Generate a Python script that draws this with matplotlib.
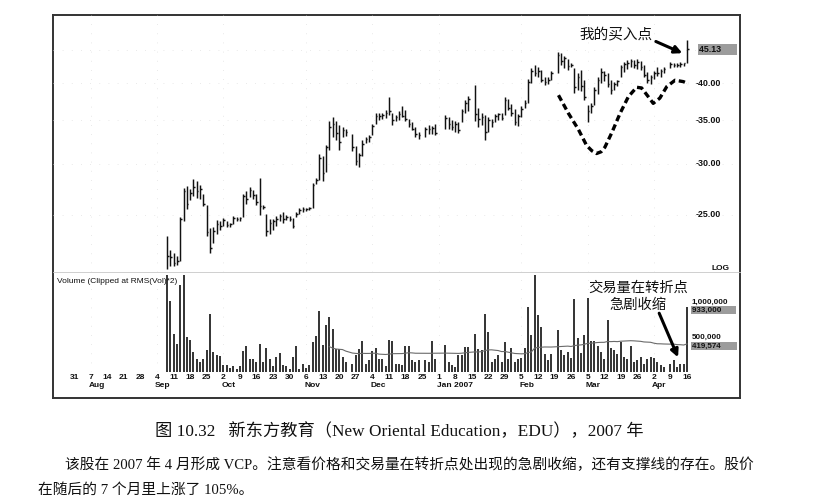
import numpy as np
import pandas as pd
import matplotlib
matplotlib.use('Agg')
import matplotlib.pyplot as plt
from matplotlib.transforms import blended_transform_factory

# trading days Sep 7 2006 - Apr 16 2007, market holidays left out
holidays = ['2006-11-23', '2006-12-25', '2007-01-01', '2007-01-02',
            '2007-01-15', '2007-02-19', '2007-04-06']
days = pd.bdate_range('2006-09-07', '2007-04-16')
days = days[~days.isin(pd.to_datetime(holidays))]

# daily bars, one line per week
highs = [23.2, 22.0,
         21.8, 21.6, 24.8, 27.5, 27.7,
         27.4, 28.4, 28.2, 27.8, 26.9,
         25.9, 23.8, 23.9, 24.5, 24.4,
         24.7, 24.4, 24.3, 24.9, 24.8,
         24.8, 26.9, 27.2, 27.6, 27.3,
         26.9, 28.5, 25.9, 25.1, 24.6,
         24.6, 24.9, 25.1, 25.2, 25.0,
         24.9, 24.7, 25.2, 25.6, 25.7,
         25.6, 25.7, 28.0, 28.5, 31.1,
         30.8, 32.1, 34.9, 35.4, 34.9,
         34.4, 34.2, 34.0, 33.4,
         32.0, 31.2, 32.6, 33.0, 33.2,
         34.5, 35.9, 36.0, 35.9, 36.3,
         38.0, 36.0, 35.7, 36.2, 36.8,
         36.3, 35.2, 34.8, 34.2, 33.6,
         34.2, 34.4, 34.3, 34.5,
         35.7, 35.4, 35.0,
         34.9, 34.8, 36.5, 37.6, 38.2,
         39.7, 36.6, 35.9, 35.7,
         35.4, 35.2, 35.8, 36.0, 35.9,
         38.0, 37.8, 37.1, 36.5, 35.8,
         36.8, 37.6, 40.6, 42.2, 42.7,
         42.3, 41.9, 40.9, 40.8, 41.7,
         44.7, 44.5, 44.0, 43.6,
         43.0, 42.2, 41.4, 41.9, 40.4,
         37.0, 37.2, 39.4, 40.9, 42.2,
         41.8, 41.4, 40.4, 40.2, 40.5,
         42.6, 43.1, 43.4, 43.6, 43.5,
         43.6, 43.3, 42.7, 41.6, 41.2,
         41.8, 42.3, 42.1, 42.4,
         43.1, 43.0, 43.0, 43.1, 43.0,
         46.6]
lows = [20.6, 20.8,
        20.8, 20.9, 21.2, 24.4, 25.5,
        26.3, 26.7, 26.5, 26.4, 25.8,
        23.2, 21.8, 22.6, 23.3, 23.7,
        24.0, 23.9, 23.9, 24.2, 24.4,
        24.4, 24.8, 26.0, 26.6, 26.4,
        25.9, 25.0, 25.5, 23.2, 23.3,
        23.7, 24.0, 24.4, 24.3, 24.5,
        24.4, 23.8, 24.8, 25.1, 25.2,
        25.3, 25.4, 25.6, 27.9, 28.3,
        28.2, 29.1, 31.5, 33.0, 32.6,
        31.5, 33.0, 33.1, 31.4,
        29.8, 29.6, 30.8, 32.3, 32.4,
        33.2, 34.6, 35.0, 35.2, 35.3,
        35.7, 34.4, 34.9, 35.0, 35.4,
        34.9, 34.2, 33.8, 33.0, 32.8,
        33.0, 33.3, 33.4, 33.2,
        33.9, 34.0, 33.8,
        33.6, 33.5, 34.8, 35.9, 36.2,
        34.9, 34.2, 34.4, 32.6,
        33.6, 34.2, 34.8, 35.0, 35.1,
        35.7, 36.3, 35.6, 34.4, 34.3,
        35.4, 36.6, 37.2, 40.0, 41.0,
        40.8, 40.2, 39.7, 39.8, 40.5,
        41.5, 42.6, 42.2, 41.9,
        42.3, 38.6, 39.0, 38.9, 37.6,
        34.8, 36.0, 37.0, 38.4, 40.0,
        40.3, 39.4, 38.4, 39.0, 39.6,
        40.8, 41.6, 42.0, 42.3, 42.2,
        42.1, 41.9, 40.8, 40.0, 39.8,
        40.6, 41.0, 40.9, 41.5,
        42.2, 42.3, 42.4, 42.4, 42.5,
        42.9]
closes = [21.6, 21.5,
          21.0, 21.2, 24.6, 27.2, 26.0,
          27.0, 27.6, 27.2, 27.4, 26.0,
          23.5, 22.2, 23.6, 24.2, 24.0,
          24.5, 24.1, 24.2, 24.7, 24.6,
          24.7, 26.7, 26.4, 27.3, 26.8,
          26.2, 25.8, 25.7, 23.6, 24.3,
          24.4, 24.6, 24.9, 24.6, 24.8,
          24.6, 24.0, 25.1, 25.4, 25.5,
          25.5, 25.6, 27.8, 28.3, 30.6,
          29.0, 31.8, 34.2, 34.5, 33.5,
          32.4, 33.8, 33.6, 31.8,
          30.3, 30.9, 32.2, 32.8, 33.0,
          34.3, 35.6, 35.5, 35.7, 36.0,
          36.2, 35.0, 35.4, 35.8, 35.6,
          35.2, 34.5, 34.0, 33.3, 33.2,
          33.9, 34.0, 34.1, 33.5,
          35.3, 34.5, 34.2,
          34.5, 33.8, 36.2, 37.3, 37.8,
          35.8, 35.2, 35.4, 33.6,
          35.0, 34.8, 35.5, 35.8, 35.3,
          37.6, 36.6, 36.0, 34.8, 35.5,
          36.5, 37.3, 40.2, 41.8, 41.5,
          41.8, 40.5, 40.1, 40.5, 41.5,
          44.2, 43.2, 43.8, 42.5,
          42.6, 39.4, 40.8, 39.6, 38.0,
          36.2, 36.8, 39.0, 40.4, 41.6,
          41.2, 39.8, 39.0, 39.8, 40.3,
          42.3, 42.8, 43.0, 43.3, 42.7,
          43.1, 42.4, 41.2, 40.4, 40.9,
          41.5, 41.4, 41.8, 42.0,
          42.8, 42.6, 42.7, 42.8, 42.9,
          45.13]
# volume in millions of shares
volumes = [1.60, 1.02,
           0.55, 0.40, 1.24, 1.50, 0.50,
           0.46, 0.28, 0.19, 0.15, 0.19,
           0.31, 0.83, 0.29, 0.24, 0.23,
           0.10, 0.10, 0.06, 0.09, 0.05,
           0.09, 0.30, 0.37, 0.19, 0.19,
           0.15, 0.40, 0.14, 0.34, 0.19,
           0.09, 0.21, 0.27, 0.10, 0.09,
           0.05, 0.21, 0.37, 0.05, 0.12,
           0.06, 0.10, 0.43, 0.51, 0.87,
           0.38, 0.67, 0.79, 0.61, 0.33,
           0.33, 0.21, 0.14, 0.12,
           0.24, 0.33, 0.45, 0.12, 0.17,
           0.30, 0.34, 0.19, 0.18, 0.09,
           0.46, 0.44, 0.12, 0.12, 0.10,
           0.37, 0.37, 0.17, 0.14, 0.17,
           0.17, 0.14, 0.44, 0.19,
           0.38, 0.14, 0.10,
           0.07, 0.24, 0.25, 0.36, 0.36,
           0.55, 0.33, 0.31, 0.83,
           0.57, 0.14, 0.19, 0.24, 0.14,
           0.43, 0.19, 0.34, 0.14, 0.19,
           0.20, 0.34, 0.93, 0.53, 3.00,
           0.81, 0.64, 0.26, 0.17, 0.26,
           0.60, 0.32, 0.24, 0.29,
           0.20, 1.05, 0.49, 0.27, 0.53,
           1.06, 0.45, 0.45, 0.37, 0.29,
           0.19, 0.74, 0.34, 0.31, 0.26,
           0.43, 0.21, 0.19, 0.37, 0.14,
           0.17, 0.21, 0.12, 0.19, 0.21,
           0.20, 0.14, 0.10, 0.07,
           0.12, 0.17, 0.07, 0.12, 0.12,
           0.933]

# hand drawn support line (weekday index from Jul 31 2006, price)
curve_x = [146.2, 149.2, 152.2, 154.7, 156.3, 157.7, 159.1, 160.2, 162.3, 164.8,
           167.3, 169.8, 171.3, 173.3, 174.8, 176.8, 178.9, 181.4, 183.9, 185.4]
curve_p = [38.3, 35.9, 33.9, 32.0, 31.4, 31.1, 31.3, 31.8, 33.5, 35.9,
           38.1, 39.4, 39.3, 38.1, 37.2, 37.9, 39.5, 40.4, 40.2, 39.9]

price_ticks = [25, 30, 35, 40]
week_starts = pd.date_range('2006-07-31', '2007-04-16', freq='W-MON')
month_names = {8: 'Aug', 9: 'Sep', 10: 'Oct', 11: 'Nov', 12: 'Dec',
               1: 'Jan 2007', 2: 'Feb', 3: 'Mar', 4: 'Apr'}

caption = '图 10.32   新东方教育（New Oriental Education，EDU），2007 年'
para1 = '该股在 2007 年 4 月形成 VCP。注意看价格和交易量在转折点处出现的急剧收缩，还有支撑线的存在。股价'
para2 = '在随后的 7 个月里上涨了 105%。'

W, H = 839, 504
origin = np.datetime64('2006-07-31')
x = np.busday_count(origin, days.values.astype('datetime64[D]'))
wx = np.busday_count(origin, week_starts.values.astype('datetime64[D]'))
xlim = (-6.4, 201.0)
cjk = ['Noto Sans CJK SC', 'DejaVu Sans']
serif_cjk = ['Liberation Serif', 'Noto Sans CJK SC']
lab = dict(family='Liberation Sans', color='#111111')
grid_kw = dict(color='#e2e2e2', lw=0.6, ls=(0, (1, 10)), zorder=0)


def box(l, t, r, b):
    return [l / W, 1 - b / H, (r - l) / W, (b - t) / H]


fig = plt.figure(figsize=(W / 100, H / 100), dpi=100)

frame = fig.add_axes(box(53, 15, 740, 398))
frame.set_xticks([])
frame.set_yticks([])
for s in frame.spines.values():
    s.set_linewidth(1.4)
    s.set_color('#333333')

# price panel
ax = fig.add_axes(box(53, 15, 740, 272))
ax.set_facecolor('none')
ax.set_yscale('log')
ax.set_xlim(xlim)
ax.set_ylim(20.37, 51.0)
ax.set_xticks([])
ax.set_yticks([])
ax.minorticks_off()
for s in ['top', 'left', 'right']:
    ax.spines[s].set_visible(False)
ax.spines['bottom'].set_color('#c8c8c8')
ax.spines['bottom'].set_linewidth(0.6)
for p in price_ticks + [45]:
    ax.axhline(p, **grid_kw)
for d, w in zip(week_starts, wx):
    if d.day <= 7:
        ax.axvline(w, **grid_kw)

ax.vlines(x, lows, highs, color='#111111', lw=1.05)
ax.hlines(closes, x, x + 0.5, color='#111111', lw=1.05)

ax.plot(curve_x, curve_p, color='black', lw=2.4, dashes=(1.9, 1.1),
        solid_capstyle='butt', dash_capstyle='butt')

tr = blended_transform_factory(ax.transAxes, ax.transData)
for p in price_ticks:
    ax.text(0.936, p, '-%.2f' % p, transform=tr, ha='left', va='center',
            fontsize=6.4, weight='bold', **lab)
ax.text(0.94, closes[-1], '%.2f      ' % closes[-1], transform=tr, ha='left',
        va='center', fontsize=6.4, weight='bold', **lab,
        bbox=dict(boxstyle='square,pad=0.12', fc='#9c9c9c', ec='none'))
ax.text(0.958, 0.0, 'LOG', transform=ax.transAxes, ha='left', va='bottom',
        fontsize=6, weight='bold', **lab)

ax.text(163.5, 47.6, '我的买入点', ha='center', va='center', fontsize=10.5,
        family=cjk, color='#111111')
ax.annotate('', xy=(183.6, 44.5), xytext=(175.6, 46.4),
            arrowprops=dict(arrowstyle='-|>', lw=2.2, color='black',
                            mutation_scale=11, shrinkA=0, shrinkB=0))

# volume panel
vol_top = 97 / 70
av = fig.add_axes(box(53, 275, 740, 372))
av.set_facecolor('none')
av.set_xlim(xlim)
av.set_ylim(0, vol_top)
av.set_xticks([])
av.set_yticks([])
for s in av.spines.values():
    s.set_visible(False)
for d, w in zip(week_starts, wx):
    if d.day <= 7:
        av.axvline(w, **grid_kw)

vol = np.array(volumes)
av.vlines(x, 0, np.minimum(vol, vol_top), color='#1a1a1a', lw=1.25)
ma = pd.Series(vol).rolling(50).mean()
av.plot(x, ma, color='#6a6a6a', lw=0.8)

av.text(0.006, 0.97, 'Volume (Clipped at RMS(Vol)*2)', transform=av.transAxes,
        ha='left', va='top', fontsize=6, **lab)

trv = blended_transform_factory(av.transAxes, av.transData)
av.text(0.930, 1.0, '1,000,000', transform=trv, ha='left', va='center',
        fontsize=5.8, weight='bold', **lab)
av.text(0.930, vol[-1], '{:,}'.format(int(round(vol[-1] * 1e6))) + '      ',
        transform=trv, ha='left', va='top', fontsize=5.8, weight='bold', **lab,
        bbox=dict(boxstyle='square,pad=0.1', fc='#9c9c9c', ec='none'))
av.text(0.930, 0.5, '500,000', transform=trv, ha='left', va='center',
        fontsize=5.8, weight='bold', **lab)
av.text(0.930, 0.4196, '419,574       ', transform=trv, ha='left', va='top',
        fontsize=5.8, weight='bold', **lab,
        bbox=dict(boxstyle='square,pad=0.1', fc='#9c9c9c', ec='none'))

av.text(170.2, 1.20, '交易量在转折点', ha='center', va='center',
        fontsize=10.3, family=cjk, color='#111111', clip_on=False)
av.text(170.2, 0.96, '急剧收缩', ha='center', va='center',
        fontsize=10.3, family=cjk, color='#111111', clip_on=False)
av.annotate('', xy=(182.3, 0.21), xytext=(176.6, 0.84),
            arrowprops=dict(arrowstyle='-|>', lw=2.2, color='black',
                            mutation_scale=11, shrinkA=0, shrinkB=0))

# date axis
trd = blended_transform_factory(av.transData, av.transAxes)
for d, w in zip(week_starts, wx):
    av.text(w, -0.055, str(d.day), transform=trd, ha='center', va='center',
            fontsize=6, weight='bold', clip_on=False, **lab)
    if d.day <= 7:
        av.text(w - 0.6, -0.14, month_names[d.month], transform=trd,
                ha='left', va='center', fontsize=6, weight='bold',
                clip_on=False, **lab)

# book caption and text
fig.text(399 / W, 1 - 432 / H, caption, ha='center', va='center',
         fontsize=12.4, family=serif_cjk, color='#111111')
fig.text(65 / W, 1 - 465 / H, para1, ha='left', va='center',
         fontsize=10.6, family=serif_cjk, color='#111111')
fig.text(38 / W, 1 - 490 / H, para2, ha='left', va='center',
         fontsize=10.6, family=serif_cjk, color='#111111')

assert len(days) == len(highs) == len(lows) == len(closes) == len(volumes)
fig.savefig('out.png', dpi=100)
